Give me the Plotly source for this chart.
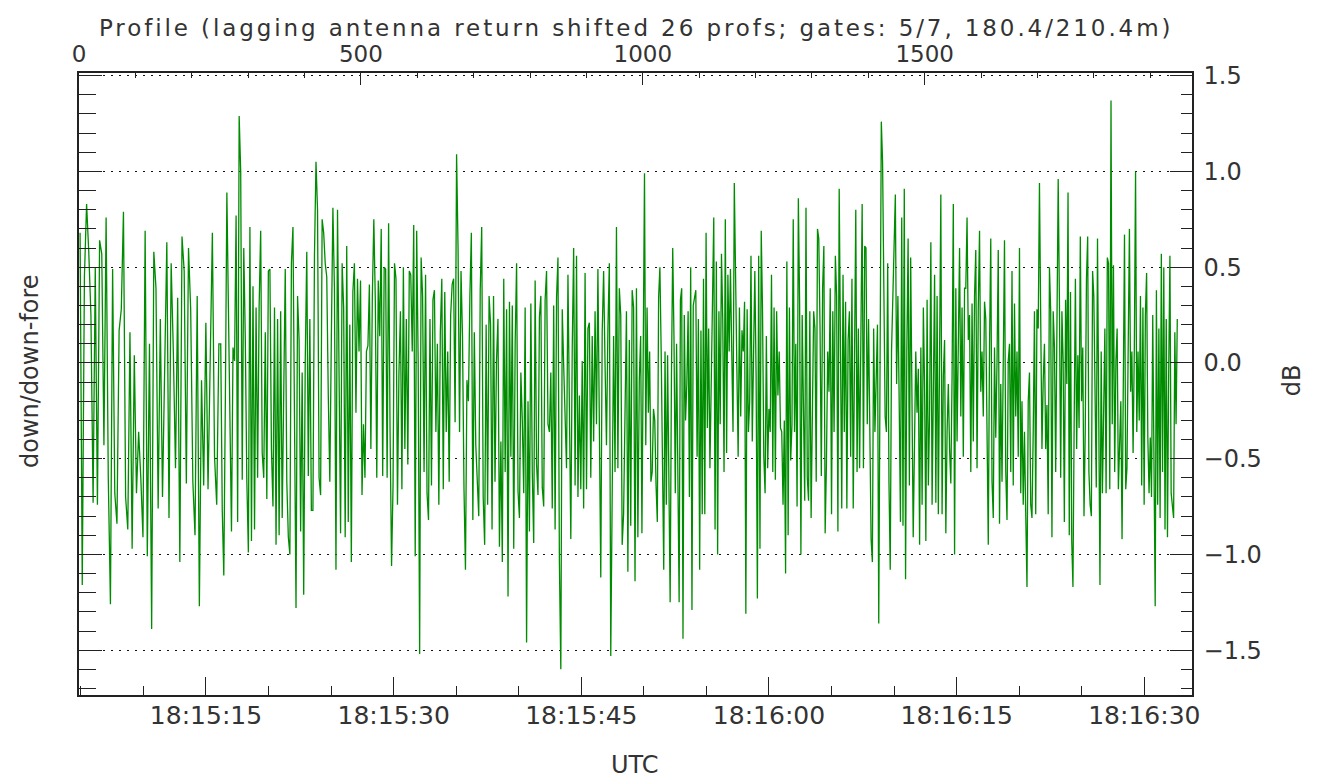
import numpy as np
import plotly.graph_objects as go

# ---- data (dB, down/down-fore ratio), in profile order ----
seg1 = [0.68, -1.16, 0.45, 0.83, 0.58, 0.25, -0.73, 0.50, -0.74, 0.64, 0.57, -0.43, 0.76, -0.60,
        -1.26, 0.49, -0.68, -0.84, 0.17, 0.28, 0.79, -0.70, -0.87, 0.16, -0.97, 0.04, -0.68, -0.36,
        -0.60, -0.91, 0.69, -1.01, 0.10, -1.39, 0.58, 0.39, -0.76, 0.23, -0.70, 0.06, 0.63, -0.81,
        0.52, 0.06, -0.55, 0.34, -1.04, 0.66, 0.48, -0.63, 0.60, 0.28, -0.62, -0.90, 0.35, -1.27,
        -0.09, -0.64, 0.21, -0.66, 0.06, 0.68, -0.49, -0.74, 0.10]
seg2 = [0.10, -0.77, -1.11, -0.20, 0.89, 0.29, -0.24, -0.88, 0.08, 0.01, 0.77, -0.83, 1.29, 1.00,
        -0.61, 0.60, 0.12, -0.62, -0.99, 0.71, -0.93, 0.40, -0.87, 0.29, -0.60, 0.30, 0.69, -0.47,
        -0.60, 0.16, -0.71, 0.48, 0.49, -0.45, -0.75, 0.29, -0.95, 0.23, -0.90, 0.27, -0.81, -0.03,
        0.49, -0.62, -0.91, -1.00, 0.52, 0.71, -0.55, -1.28, 0.35, 0.12, -0.88, -0.05, -1.21, 0.01,
        0.58, -0.59, 0.23, -0.77, -0.77, 0.56, 1.05, 0.80, -0.60, -0.69, 0.75, 0.68, 0.52, 0.45,
        -0.17, -0.62, 0.14, 0.81, 0.39, -1.08, 0.80, 0.08, -0.89, 0.52, 0.29, -0.91, 0.61, -0.83,
        0.20, -1.04, 0.37, 0.52, -0.26, 0.44, 0.06]
seg3 = [0.43, -0.69, -0.32, -0.60, 0.06, 0.09, 0.41, -0.45, 0.35, 0.75, 0.33, -0.60, 0.43, 0.14,
        0.70, -0.59, 0.50, 0.49, -0.60, 0.73, -0.36, -1.06, -0.64, 0.52, 0.44, -0.74, -0.05, 0.27,
        -0.66, 0.50, -0.45, 0.23, -0.53, 0.48, 0.46, 0.06, 0.72, -1.01, 0.69, 0.01, -1.52, 0.55,
        0.35, -0.57, 0.46, -0.68, -0.82, 0.23, -0.64, 0.33, 0.38, -0.36, 0.10, -0.74, 0.16, 0.44,
        -0.66, 0.37, -0.36, 0.06, -0.62, 0.25, 0.41, 0.44, -0.31, 1.09, 0.60, -0.36, 0.48, 0.14,
        -0.65, -1.08, -0.09, -0.20, 0.35, 0.68, -0.82, 0.16, -0.43, -0.60, -0.80, 0.38, 0.71, -0.70,
        -0.95, 0.20, -0.74, 0.35, 0.20, -0.87, 0.35, -0.62, 0.01, 0.23, -0.96]
seg4 = [-0.41, -1.04, 0.44, -0.57, 0.28, -1.22, 0.32, -0.49, 0.30, -0.97, 0.10, 0.52, -0.67, -0.81,
        -0.05, -0.30, -0.68, 0.29, -1.46, -0.20, -0.88, 0.31, -0.57, -0.94, 0.43, -0.53, -0.69, 0.24,
        0.35, -0.65, -0.75, 0.33, 0.48, -0.32, -0.36, -0.05, -0.76, 0.30, -0.87, 0.34, 0.55, -1.04,
        -1.60, 0.28, -0.01, -0.36, -0.55, 0.46, -0.41, -0.92, 0.08, 0.60, -0.64, 0.56, -0.70, -0.17,
        -0.66, 0.01, -0.76, 0.47, -0.66, 0.18, 0.21, -0.60, 0.14, -0.41, 0.27, -0.32, 0.49, -0.60,
        -1.12, 0.16, 0.48, -0.01, -0.43, 0.18, 0.52, -1.53, -0.60, 0.14, -0.57, 0.71, -0.55, 0.39,
        0.25, -0.95, -0.79, -0.28, 0.27, -1.09, 0.12, -0.85, 0.38, 0.29, -1.14, 0.39, -0.91, -0.09]
seg5 = [0.14, -0.89, 0.06, 0.99, -0.43, 0.29, -0.26, 0.06, -0.62, -0.57, -0.24, -0.30, -0.64, -0.83,
        0.34, 0.50, 0.06, -0.57, -1.08, 0.06, -0.74, 0.04, -0.76, -1.25, -0.07, 0.60, 0.12, -0.68,
        0.10, -0.55, -1.25, 0.33, 0.39, -1.44, 0.25, -0.30, -0.11, 0.27, -0.70, 0.50, -1.29, 0.30,
        0.35, 0.38, -0.49, 0.23, -1.08, 0.17, -0.79, 0.44, -0.79, 0.68, -0.34, 0.18, -0.55, -0.04,
        0.35, 0.76, -0.87, 0.53, -1.00, 0.27, -0.32, 0.57, 0.23, -0.57, 0.75, -0.47, 0.46, 0.06,
        0.49, 0.14, -0.36, 0.94, 0.55, -0.03, -0.49, 0.29, -0.28, 0.17, 0.06, 0.32, -1.31, 0.28,
        -0.36, -0.20, 0.56, -0.41, 0.04, 0.48, -0.07, -1.23, 0.56, -0.97, 0.69, 0.27, -0.49, -0.68,
        0.14, -0.55, -0.24, -0.36, 0.46, -0.57, 0.29, -0.61, 0.27, -0.17, 0.06]
seg6 = [-0.34, -0.36, -0.74, -0.30, -1.10, 0.53, -0.90, 0.29, -0.51, -0.32, 0.75, -0.36, 0.10, -0.75,
        0.86, 0.31, -1.00, 0.25, -0.41, -0.72, 0.81, -0.60, -0.72, 0.27, -0.81, -0.22, 0.27, 0.18,
        -0.62, 0.70, 0.65, 0.18, -0.59, 0.39, 0.61, -0.89, -0.53, 0.06, -0.15, 0.39, -0.79, 0.27,
        -0.36, 0.56, 0.35, -0.88, 0.91, 0.10, -0.76, 0.46, -0.36, 0.32, -0.76, 0.12, 0.27, -0.49,
        0.44, -0.76, 0.27, 0.80, -0.57, 0.18, -0.55, 0.27, 0.83, -0.55, 0.61, 0.60, -0.32, 0.23,
        -0.53, -0.92, -1.04, 0.18, -0.36, -0.09, 0.20, -1.36, 0.23, 1.26, 1.05, 0.15, -0.28, -0.36,
        0.52, -0.62, -1.08, 0.06, 0.33, 0.48, 0.88, -0.11, 0.35, -0.20, -0.83, 0.76, -0.85, 0.91,
        -1.13, 0.06, 0.65, -0.64, 0.55, -0.17, -0.91, -0.43, 0.06, -0.26, -0.03, -0.95]
seg7 = [0.08, -0.74, 0.29, -0.13, -0.93, 0.33, -0.64, -0.26, 0.63, -0.74, 0.10, 0.46, -0.73, 0.35,
        -0.79, 0.10, 0.88, -0.79, -0.07, 0.12, -0.89, -0.36, -0.11, -0.45, -0.63, -0.07, 0.83, -1.00,
        0.39, -0.41, 0.04, 0.60, -0.28, 0.29, -0.49, 0.39, 0.39, 0.76, 0.12, 0.25, -0.57, 0.31,
        -0.41, 0.35, 0.59, -0.55, 0.29, 0.69, -0.15, 0.06, -0.28, 0.32, 0.23, -0.47, -0.95, 0.08,
        0.65, -0.62, -0.81, 0.08, -0.39, 0.01, 0.59, -0.84, -0.11, -0.62, 0.27, 0.64, -0.57, -0.82,
        0.01, 0.10, -0.57, 0.48, -0.64, 0.31, -0.28, 0.06, -0.49, 0.60, -0.68, -0.20, -0.74, -0.36,
        -0.79, -1.17, -0.20, -0.05, -0.74, -0.81, -0.36, 0.27, -0.79, 0.28, 0.18, 0.94, 0.23, -0.45,
        -0.09, 0.10, -0.45, -0.22, -0.79, 0.50, 0.27, -0.91, 0.27, 0.08, -0.57, 0.23, 0.96, 0.31]
seg8 = [-0.60, 0.27, 0.01, -0.83, 0.33, -0.11, 0.89, -0.90, 0.37, -0.93, -1.17, -0.30, 0.44, -0.45,
        0.04, -0.34, 0.66, -0.20, 0.08, -0.80, -0.36, 0.44, 0.66, -0.57, -0.74, -0.80, 0.48, 0.35,
        -0.28, -0.65, 0.65, -0.32, -1.16, 0.06, -0.68, -0.26, 0.18, -0.68, 0.55, 0.52, -0.66, 1.37,
        -0.32, 0.51, -0.57, 0.01, 0.18, -0.66, -0.36, -0.20, -0.92, -0.11, 0.67, -0.66, -0.55, 0.08,
        0.70, -0.15, 0.06, -0.47, 0.08, 1.00, -0.36, 0.06, -0.30, 0.35, -0.64, 0.29, -0.74, 0.25,
        0.47, -0.39, -0.68, -0.39, -0.70, 0.25, -0.36, -1.27, 0.38, -0.74, 0.18, -0.81, 0.57, -0.57,
        0.50, -0.87, 0.23, -0.91, -0.05, 0.56, -0.68, -0.74, -0.81, 0.16, -0.32, 0.23]
# profile number at which each segment above starts / the last one ends
seg_bounds = [0, 250, 498, 747, 995, 1243, 1492, 1740, 1949]

# axis extents / labels
profile_range = [0, 1974]
utc_start, utc_end = "18:15:04.85", "18:16:33.81"
utc_ticks = ["18:15:15", "18:15:30", "18:15:45", "18:16:00", "18:16:15", "18:16:30"]
db_range = [-1.734, 1.514]
title_text = "Profile (lagging antenna return shifted 26 profs; gates: 5/7, 180.4/210.4m)"


def sod(s):
    h, m, sec = s.split(":")
    return int(h) * 3600 + int(m) * 60 + float(sec)


segs = [seg1, seg2, seg3, seg4, seg5, seg6, seg7, seg8]
prof, vals = [], []
for seg, a, b in zip(segs, seg_bounds[:-1], seg_bounds[1:]):
    n = len(seg)
    prof.extend(a + (b - a) * (np.arange(n) + 0.5) / n)
    vals.extend(seg)
prof = np.array(prof)
t0, t1 = sod(utc_start), sod(utc_end)
times = t0 + (prof - profile_range[0]) * (t1 - t0) / (profile_range[1] - profile_range[0])

FONT = dict(family="DejaVu Sans", size=24, color="#333333")
AX = "#222222"


def spaced(s, px):
    return "<span style='letter-spacing:%.2fpx'>%s</span>" % (px, s)


fig = go.Figure()
# profile axis (top) / left axis: the visible trace
fig.add_trace(go.Scatter(x=prof, y=vals, mode="lines", xaxis="x", yaxis="y",
                         line=dict(color="rgb(0,140,0)", width=1.3), showlegend=False,
                         hoverinfo="skip"))
# same series against UTC (bottom) / dB (right) axes so those axes are drawn
fig.add_trace(go.Scatter(x=times, y=vals, mode="lines", xaxis="x2", yaxis="y2",
                         line=dict(color="rgba(0,0,0,0)", width=1), showlegend=False,
                         hoverinfo="skip"))

tv = [sod(t) for t in utc_ticks]
fig.update_layout(
    width=1311, height=772, autosize=False,
    margin=dict(l=71, r=127, t=65, b=85, pad=0),
    paper_bgcolor="white", plot_bgcolor="white",
    font=FONT,
    xaxis=dict(side="top", range=profile_range, anchor="y", automargin=False,
               showline=True, linecolor=AX, linewidth=1.5, showgrid=False, zeroline=False,
               tick0=0, dtick=500, ticks="inside", ticklen=12, tickwidth=1.2, tickcolor=AX,
               minor=dict(ticks="inside", dtick=100, ticklen=5, tickwidth=1.2, tickcolor=AX),
               tickfont=dict(size=23), ticklabelstandoff=0),
    xaxis2=dict(side="bottom", overlaying="x", anchor="y2", automargin=False,
                range=[t0, t1],
                showline=True, linecolor=AX, linewidth=1.5, showgrid=False, zeroline=False,
                tickmode="array", tickvals=tv, ticktext=utc_ticks,
                ticks="inside", ticklen=18, tickwidth=1.2, tickcolor=AX,
                minor=dict(ticks="inside", dtick=5, tick0=tv[0], ticklen=9, tickwidth=1.2, tickcolor=AX),
                tickfont=dict(size=25), ticklabelstandoff=-3),
    yaxis=dict(range=db_range, anchor="x", automargin=False, side="left",
               showline=True, linecolor=AX, linewidth=2, zeroline=False,
               showgrid=True, gridcolor="#111111", gridwidth=1, griddash="2px,6px",
               tick0=0, dtick=0.5, ticks="inside", ticklen=23, tickwidth=1.2, tickcolor=AX,
               showticklabels=False,
               minor=dict(ticks="inside", dtick=0.1, ticklen=17, tickwidth=1.2, tickcolor=AX,
                          showgrid=False)),
    yaxis2=dict(range=db_range, overlaying="y", anchor="x2", side="right", automargin=False,
                showline=True, linecolor=AX, linewidth=1.5, zeroline=False, showgrid=False,
                tick0=0, dtick=0.5, tickformat=".1f", ticks="inside", ticklen=22,
                tickwidth=1.2, tickcolor=AX, tickfont=dict(size=24), ticklabelstandoff=5,
                minor=dict(ticks="inside", dtick=0.1, ticklen=11, tickwidth=1.2, tickcolor=AX)),
    annotations=[
        dict(text=spaced(title_text, 2.9), xref="paper", yref="paper", x=0.5, y=1.073,
             showarrow=False, font=dict(size=23), xanchor="center", yanchor="middle"),
        dict(text="UTC", xref="paper", yref="paper", x=0.4996, y=-0.1125,
             showarrow=False, font=dict(size=24), xanchor="center", yanchor="middle"),
        dict(text="down/down-fore", xref="paper", yref="paper", x=-0.044, y=0.521,
             showarrow=False, textangle=-90, font=dict(size=24), xanchor="center", yanchor="middle"),
        dict(text="dB", xref="paper", yref="paper", x=1.0899, y=0.506,
             showarrow=False, textangle=-90, font=dict(size=24), xanchor="center", yanchor="middle"),
    ],
)

fig.write_html("out.html")
